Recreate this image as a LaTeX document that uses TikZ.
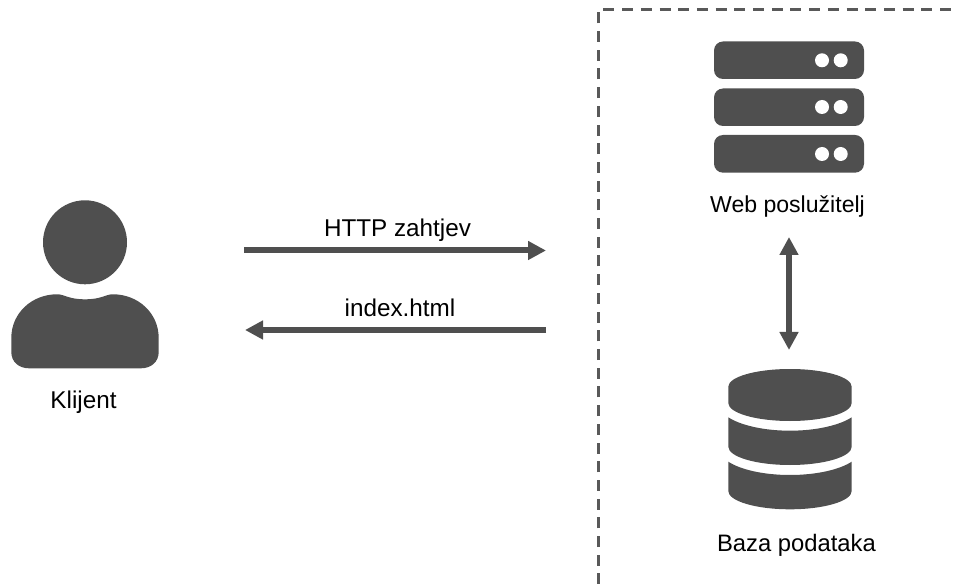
\documentclass[tikz,border=0pt]{standalone}
\usepackage{fontspec}
\setmainfont{Liberation Sans}
\usetikzlibrary{arrows.meta}

\definecolor{icongray}{RGB}{79,79,79}
\definecolor{boxgray}{RGB}{89,89,89}
\tikzset{
  iconfill/.style={fill=icongray,draw=none},
  iconhole/.style={fill=white,draw=none},
  flowarrow/.style={draw=icongray,line width=4.5pt,-{Triangle[length=13.5pt,width=13.5pt]}},
  flowboth/.style={draw=icongray,line width=4.5pt,{Triangle[length=13.5pt,width=13.5pt]}-{Triangle[length=13.5pt,width=13.5pt]}},
  labeltext/.style={anchor=base,inner sep=0.75pt,font=\fontsize{18.2}{22}\selectfont},
}

\begin{document}
\begin{tikzpicture}[x=0.75pt,y=0.75pt,yscale=-1,xscale=1]
    \useasboundingbox (0,0) rectangle (956,584);

    %Shape: Head
    \path [iconfill] (85,242.3) circle [radius=42];
    %Shape: Body
    \path [iconfill] (11.3,352) .. controls (11.3,362) and (19,368.3) .. (29,368.3) -- (141,368.3) .. controls (151,368.3) and (158.7,362) .. (158.7,352) -- (158.7,338) .. controls (158.7,313) and (138,294.3) .. (113,294.3) .. controls (105,294.3) and (102,299.3) .. (85,299.3) .. controls (68,299.3) and (65,294.3) .. (57,294.3) .. controls (32,294.3) and (11.3,313) .. (11.3,338) -- cycle ;

    %Shape: Dashed Frame
    \draw [draw=boxgray,line width=1.7pt,dash pattern=on 8.25pt off 5.78pt,dash phase=9.9pt] (598.5,590) -- (598.5,9.5) -- (960,9.5) ;

    %Shape: Server Racks
    \path [iconfill,rounded corners=6.75pt] (714,41.5) rectangle (864,79);
    \path [iconfill,rounded corners=6.75pt] (714,88.5) rectangle (864,126);
    \path [iconfill,rounded corners=6.75pt] (714,135) rectangle (864,172.7);
    %Shape: Server Lights
    \path [iconhole] (822,60.3) circle [radius=7] (840.7,60.3) circle [radius=7];
    \path [iconhole] (822,107) circle [radius=7] (840.7,107) circle [radius=7];
    \path [iconhole] (822,154) circle [radius=7] (840.7,154) circle [radius=7];

    %Shape: Database Top
    \path [iconfill] (728.3,386.7) .. controls (728.3,376.9) and (755.9,369) .. (790,369) .. controls (824.1,369) and (851.7,376.9) .. (851.7,386.7) -- (851.7,403) .. controls (851.7,413) and (824.1,421) .. (790,421) .. controls (755.9,421) and (728.3,413) .. (728.3,403) -- cycle ;
    %Shape: Database Middle
    \path [iconfill] (728.3,417.3) .. controls (740,425) and (763,430.7) .. (790,430.7) .. controls (817,430.7) and (840,425) .. (851.7,417.3) -- (851.7,446.7) .. controls (851.7,456.8) and (824.1,465) .. (790,465) .. controls (755.9,465) and (728.3,456.8) .. (728.3,446.7) -- cycle ;
    %Shape: Database Bottom
    \path [iconfill] (728.3,461.7) .. controls (740,469.4) and (763,475) .. (790,475) .. controls (817,475) and (840,469.4) .. (851.7,461.7) -- (851.7,491) .. controls (851.7,501.1) and (824.1,509.3) .. (790,509.3) .. controls (755.9,509.3) and (728.3,501.1) .. (728.3,491) -- cycle ;

    % Arrow Ends
    \coordinate (reqstart) at (244,250.5);
    \coordinate (reqend) at (546,250.5);
    \coordinate (respstart) at (546,330);
    \coordinate (respend) at (245,330);
    \coordinate (webend) at (789,237);
    \coordinate (dbend) at (789,350);

    %Straight Lines
    \draw [flowarrow] (reqstart) -- (reqend);
    \draw [flowarrow] (respstart) -- (respend);
    \draw [flowboth] (webend) -- (dbend);

    % Text Node
    \node [labeltext] (request) at (397.5,236.5) {HTTP zahtjev};
    % Text Node
    \node [labeltext] (response) at (400,316.5) {index.html};
    % Text Node
    \node [labeltext] (client) at (83.5,408) {Klijent};
    % Text Node
    \node [labeltext,font=\fontsize{17.3}{21}\selectfont] (webserver) at (787.5,213) {Web poslužitelj};
    % Text Node
    \node [labeltext,font=\fontsize{17.85}{21}\selectfont] (database) at (796.5,551) {Baza podataka};
\end{tikzpicture}
\end{document}
